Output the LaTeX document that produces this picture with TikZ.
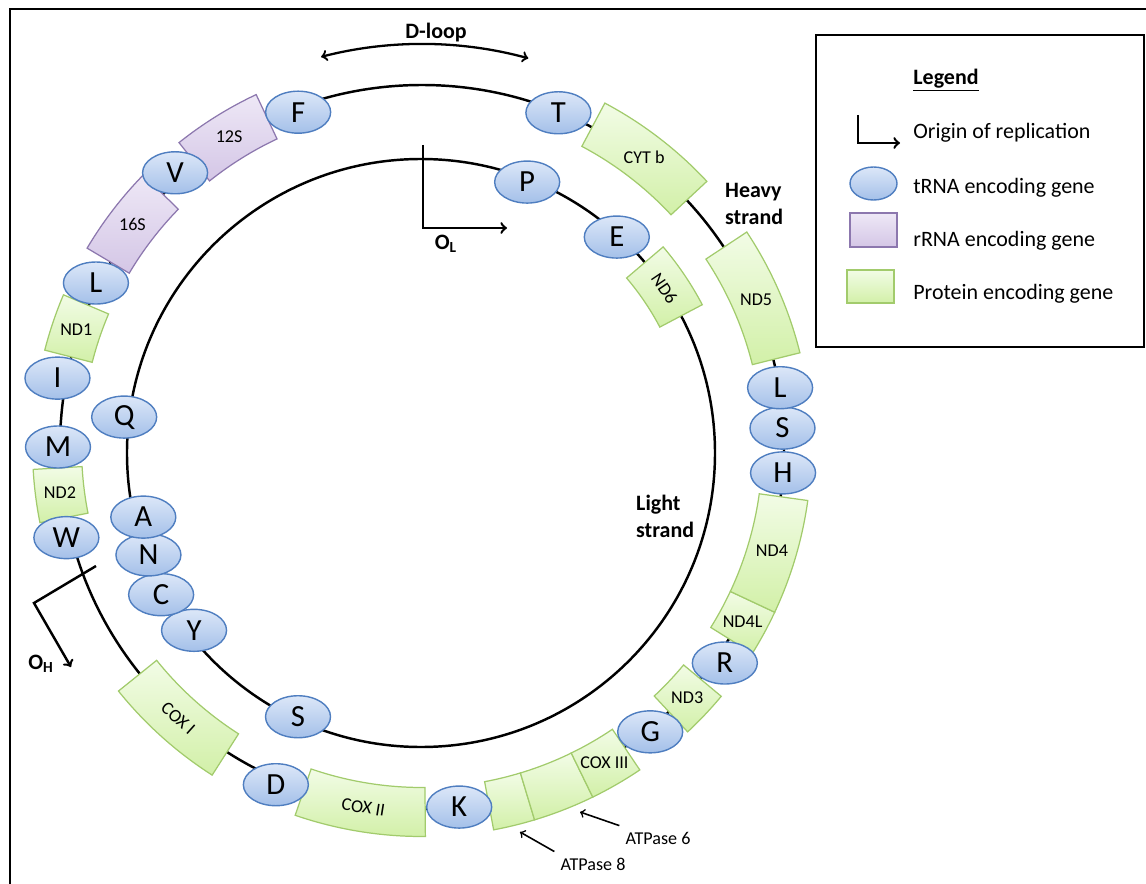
\documentclass[tikz,border=0pt]{standalone}
\usepackage{fontspec}
\setmainfont{Carlito}
\usepackage{tikz}
\usetikzlibrary{shapes.geometric,arrows}
\usepackage{xcolor}
\definecolor{trnaTop}{HTML}{DCE7F8}
\definecolor{trnaBot}{HTML}{A4C0E9}
\definecolor{trnaLine}{HTML}{4F7EC0}
\definecolor{protTop}{HTML}{F2FCE6}
\definecolor{protBot}{HTML}{D2F0A8}
\definecolor{protLine}{HTML}{A2CB6C}
\definecolor{rrnaTop}{HTML}{EEE8F6}
\definecolor{rrnaBot}{HTML}{D4C6E6}
\definecolor{rrnaLine}{HTML}{8C77AE}

\begin{document}
\begin{tikzpicture}[
  trna/.style={ellipse, draw=trnaLine, line width=0.8pt, top color=trnaTop, bottom color=trnaBot,
    minimum width=1.3cm, minimum height=0.84cm, inner sep=0pt, font=\fontsize{17.5}{20}\selectfont},
  prot/.style={draw=protLine, line width=0.7pt, top color=protTop, bottom color=protBot, inner sep=0pt},
  rrna/.style={draw=rrnaLine, line width=0.7pt, top color=rrnaTop, bottom color=rrnaBot, inner sep=0pt},
  strand/.style={line width=1.4pt},
  genelabel/.style={font=\fontsize{10.3}{12}\selectfont},
  keytext/.style={font=\fontsize{12.5}{15}\selectfont, anchor=west, inner sep=0pt},
  boldtext/.style={font=\fontsize{12.5}{15.4}\selectfont\bfseries, align=left}
]
\useasboundingbox (-8.44,8.94) rectangle (14.48,-8.72);
\draw [line width=1.1pt] (-8.24,8.76) rectangle (14.9,-9.2);

% heavy strand
\draw [strand] (0,0) circle (7.24cm);
\coordinate (dl1) at (104.5:8.06);
\draw [<->, line width=1.3pt] (dl1) arc [start angle=104.5, end angle=74.7, radius=8.06];
\node [boldtext] (dloop) at (0.28,8.28) {D-loop};
\node [boldtext, anchor=west] (heavy) at (5.94,4.87) {Heavy\\strand};

\foreach \a/\b/\st/\t/\r in {115.2/128.6/rrna/12S/0, 135.7/149.3/rrna/16S/0, 157/165.6/prot/ND1/0,
  183.3/191.2/prot/ND2/0, 218.8/237.4/prot/COX I/-41.9, 251/270.5/prot/COX II/-9.25,
  280.6/286.8/prot//0, 286.8/296/prot//0, 296/304/prot/COX III/0, 313/320.2/prot/ND3/0,
  328/334.9/prot/ND4L/0, 334.9/352.1/prot/ND4/0, 14/33.5/prot/ND5/0, 43/62/prot/CYT b/0}
{
  \path [\st] (\a:6.81) arc [start angle=\a, end angle=\b, radius=6.81]
    -- (\b:7.79) arc [start angle=\b, end angle=\a, radius=7.79] -- cycle;
  \pgfmathsetmacro\m{(\a+\b)/2}
  \node [genelabel, rotate=\r] at (\m:7.3) {\t};
}

\foreach \a/\r/\n/\t in {110.3/7.14/F/F, 67.8/7.22/T/T, -4.1/7.24/H/H, 3/7.22/S1/S, 9.4/7.26/L1/L,
  -35.5/7.44/R/R, -51.3/7.3/G/G, -84.1/7.24/K/K, -113.4/7.36/D/D, 194.3/7.34/W/W,
  180/7.28/M/M, 169.3/7.42/I/I, 153.3/7.3/L2/L, 132/7.38/V/V}
  \node [trna] (t\n) at (\a:\r) {\t};

% light strand
\begin{scope}[shift={(-0.02,-0.12)}]
\draw [strand] (0,0) circle (5.88cm);
\path [prot] (27.8:5.4) arc [start angle=27.8, end angle=40.4, radius=5.4]
  -- (40.4:6.36) arc [start angle=40.4, end angle=27.8, radius=6.36] -- cycle;
\node [genelabel, rotate=-55.9] (nd6) at (34.1:5.88) {ND6};
\foreach \a/\r/\n/\t in {68.6/5.82/P/P, 47.8/5.83/E/E, 173.1/5.98/Q/Q, 245/5.82/S2/S,
  218/5.76/Y/Y, 208.6/5.92/C/C, 200.5/5.82/N/N, 193/5.7/A/A}
  \node [trna] (t\n) at (\a:\r) {\t};
\end{scope}
\node [boldtext, anchor=west] (light) at (4.16,-1.39) {Light\\strand};

% origins of replication
\coordinate (oltop) at (0.02,6.04);
\coordinate (olcorner) at (0.02,4.38);
\coordinate (olend) at (1.70,4.38);
\draw [strand, ->] (oltop) -- (olcorner) -- (olend);
\node [boldtext] (ol) at (0.48,4.06) {O\textsubscript{L}};
\coordinate (ohtop) at (-6.52,-2.38);
\coordinate (ohcorner) at (-7.76,-3.12);
\coordinate (ohend) at (-7.02,-4.40);
\draw [strand, ->] (ohtop) -- (ohcorner) -- (ohend);
\node [boldtext] (oh) at (-7.62,-4.34) {O\textsubscript{H}};

% ATPase labels
\node [genelabel] (atp8) at (3.42,-8.34) {ATPase 8};
\coordinate (atp8tip) at (1.96,-7.70);
\draw [->, line width=0.9pt] (atp8.north west) -- (atp8tip);
\node [genelabel] (atp6) at (4.72,-7.82) {ATPase 6};
\coordinate (atp6tip) at (3.16,-7.30);
\draw [->, line width=0.9pt] (atp6.north west) -- (atp6tip);

% legend
\draw [line width=1.4pt] (7.88,8.24) rectangle (14.44,2.0);
\node [boldtext] (legtitle) at (10.48,7.34) {\underline{Legend}};
\coordinate (keytop) at (8.72,6.64);
\coordinate (keycorner) at (8.72,6.08);
\coordinate (keyend) at (9.56,6.08);
\draw [strand, ->] (keytop) -- (keycorner) -- (keyend);
\node [keytext] (keyori) at (9.82,6.28) {Origin of replication};
\node [trna, minimum width=0.94cm, minimum height=0.66cm] (keytrna) at (9.03,5.27) {};
\node [keytext] (keytrnatext) at (9.82,5.18) {tRNA encoding gene};
\node [rrna, minimum width=0.94cm, minimum height=0.68cm] (keyrrna) at (9.03,4.34) {};
\node [keytext] (keyrrnatext) at (9.82,4.12) {rRNA encoding gene};
\node [prot, minimum width=0.94cm, minimum height=0.66cm] (keyprot) at (8.97,3.21) {};
\node [keytext] (keyprottext) at (9.82,3.06) {Protein encoding gene};
\end{tikzpicture}
\end{document}
